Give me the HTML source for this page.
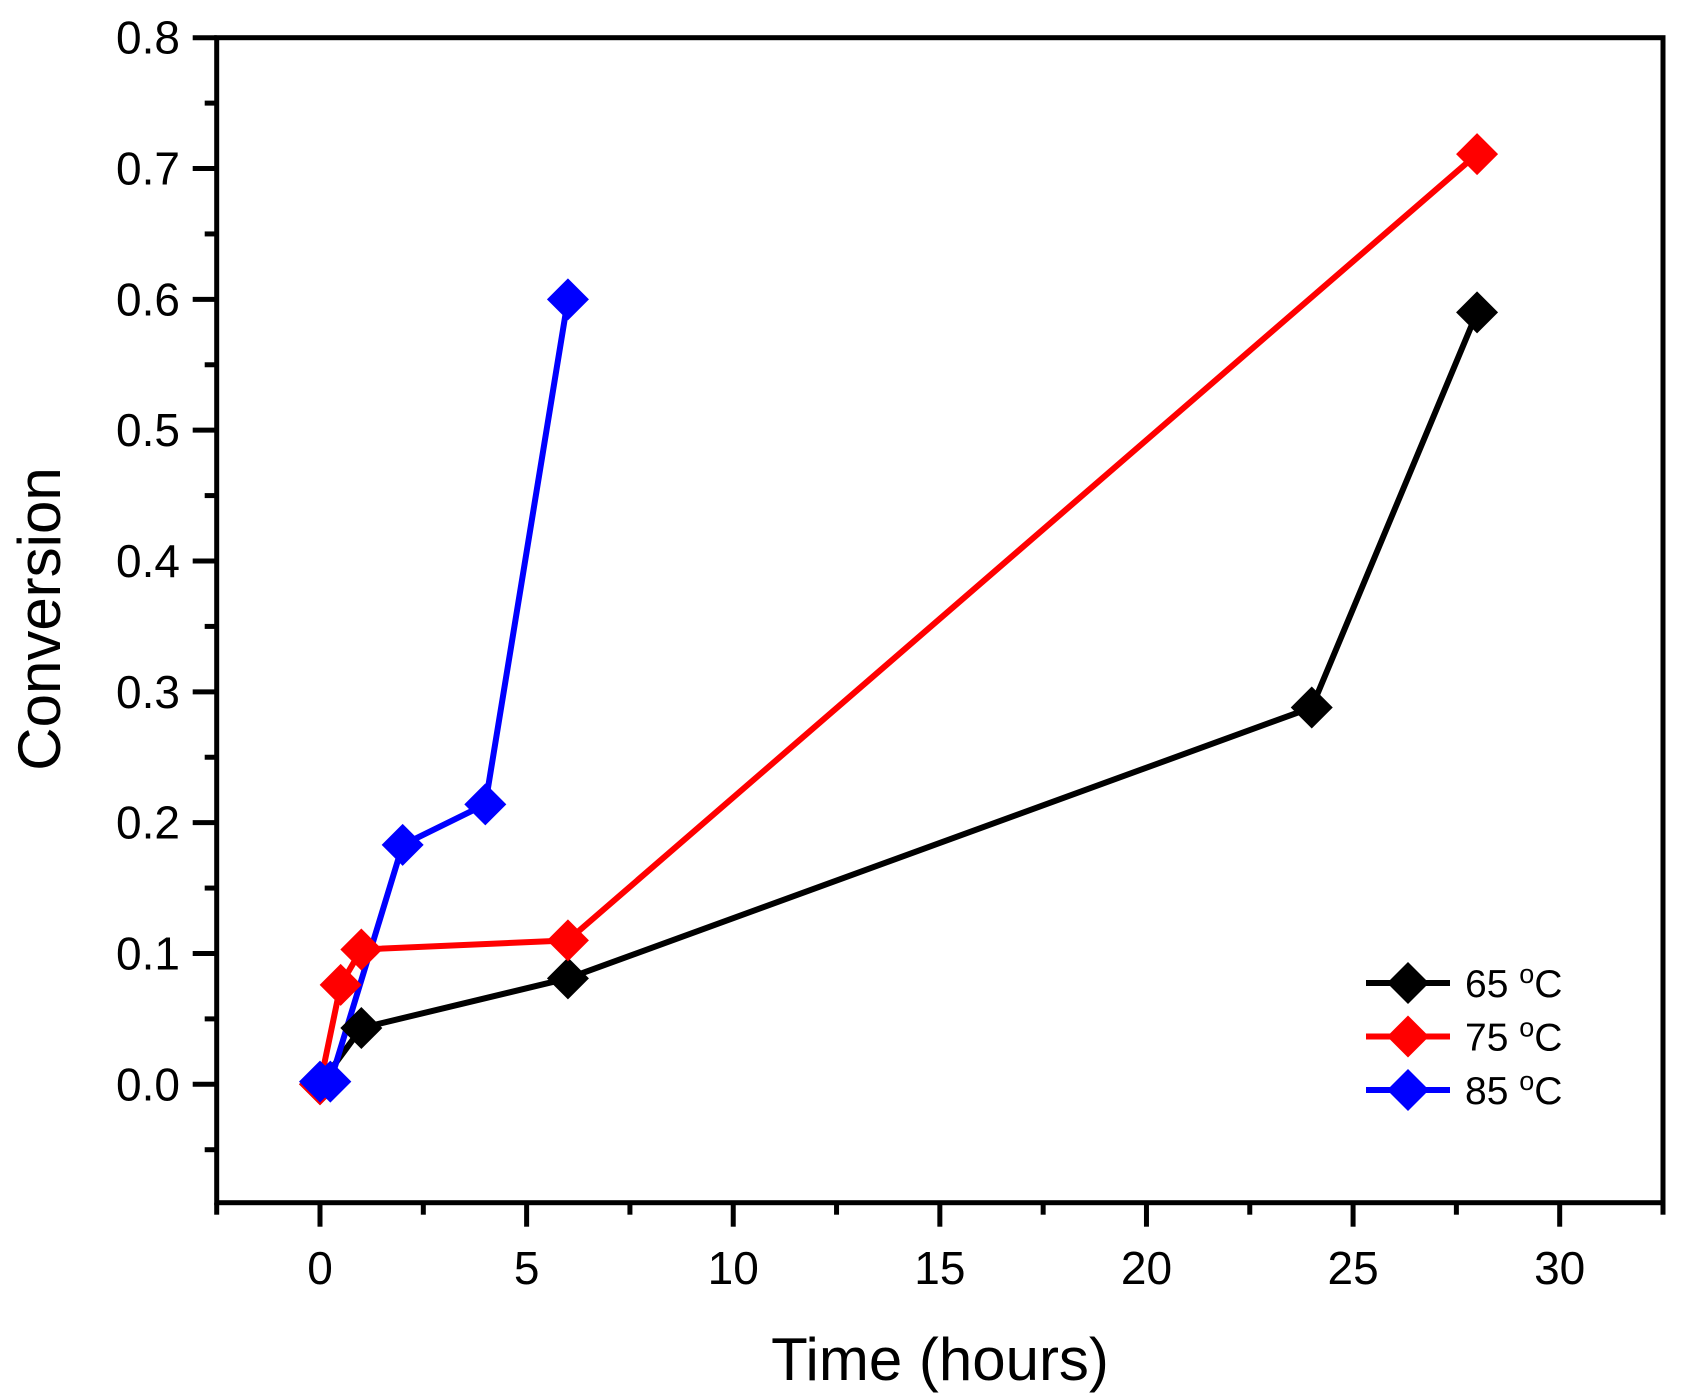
<!DOCTYPE html>
<html><head><meta charset="utf-8"><style>
html,body{margin:0;padding:0;background:#fff;}
svg{display:block;font-family:"Liberation Sans",Arial,sans-serif;}
</style></head><body>
<svg id="chart" width="1688" height="1397" viewBox="0 0 1688 1397"></svg>
<script>
const seriesNames = ["65 °C","75 °C","85 °C"];
const seriesColors = ["#000000","#ff0000","#0000ff"];
const x65 = [0,1,6,24,28];
const y65 = [0,0.043,0.081,0.288,0.59];
const x75 = [0,0.5,1,6,28];
const y75 = [0,0.076,0.103,0.11,0.711];
const x85 = [0,0.25,2,4,6];
const y85 = [0.002,0.002,0.183,0.214,0.6];
const xTicks = [0,5,10,15,20,25,30];
const yTicks = [0.0,0.1,0.2,0.3,0.4,0.5,0.6,0.7,0.8];

const svg = document.getElementById('chart');
const NS = 'http://www.w3.org/2000/svg';
const L=216.7, R=1663, T=37.7, B=1202.7;
const xMin=-2.5, xMax=32.5, yMin=-0.0905, yMax=0.8;
const sx = v => L + (v-xMin)/(xMax-xMin)*(R-L);
const sy = v => B - (v-yMin)/(yMax-yMin)*(B-T);
function mk(tag, attrs){const e=document.createElementNS(NS,tag);for(const k in attrs)e.setAttribute(k,attrs[k]);svg.appendChild(e);return e;}

let f = mk('rect',{x:L,y:T,width:R-L,height:B-T,fill:'none',stroke:'#000','stroke-width':5});



for(let v=-2.5; v<=32.5+1e-6; v+=2.5){
  const major = Math.abs(v%5)<1e-6;
  const t = mk('line',{x1:sx(v),x2:sx(v),y1:B,y2:major?B+24:B+12,stroke:'#000','stroke-width':5});
  
  
}
xTicks.forEach(v=>{
  const t = mk('text',{x:sx(v),y:1284,'text-anchor':'middle','font-size':46});
  t.textContent = v;
  
  
});
for(let i=-1;i<=16;i++){
  const v=i*0.05; const major=i%2===0;
  const t = mk('line',{x1:major?L-24:L-12,x2:L,y1:sy(v),y2:sy(v),stroke:'#000','stroke-width':5});
  
  
}
yTicks.forEach(v=>{
  const t = mk('text',{x:180,y:sy(v)+16,'text-anchor':'end','font-size':46});
  t.textContent = v.toFixed(1);
  
  
});
let xt = mk('text',{x:940,y:1380,'text-anchor':'middle','font-size':60});
xt.textContent='Time (hours)';


let yt = mk('text',{x:0,y:0,'text-anchor':'middle','font-size':60,transform:'translate(60,619) rotate(-90)'});
yt.textContent='Conversion';



function diamond(cx,cy,color,r){
  return mk('polygon',{points:`${cx},${cy-r} ${cx+r},${cy} ${cx},${cy+r} ${cx-r},${cy}`,fill:color});
}
const allX=[x65,x75,x85], allY=[y65,y75,y85];
allX.forEach((xs,si)=>{
  const ys=allY[si];
  const pl = mk('polyline',{points:xs.map((x,i)=>sx(x)+','+sy(ys[i])).join(' '),fill:'none',stroke:seriesColors[si],'stroke-width':6,'stroke-linejoin':'round'});
  
  
});
allX.forEach((xs,si)=>{
  const ys=allY[si];
  xs.forEach((x,i)=>{
    const d = diamond(sx(x),sy(ys[i]),seriesColors[si],21);
    
    
  });
});
seriesNames.forEach((n,i)=>{
  const y = 983 + i*53.5;
  const ln = mk('line',{x1:1366,x2:1450,y1:y,y2:y,stroke:seriesColors[i],'stroke-width':6});
  
  
  const d = diamond(1408,y,seriesColors[i],21);
  
  
  const t = mk('text',{x:1465,y:y+14,'font-size':39});
  t.innerHTML = n.slice(0,2)+' <tspan dy="-14" font-size="27">o</tspan><tspan dy="14">C</tspan>';
  
  
});
</script>
</body></html>
